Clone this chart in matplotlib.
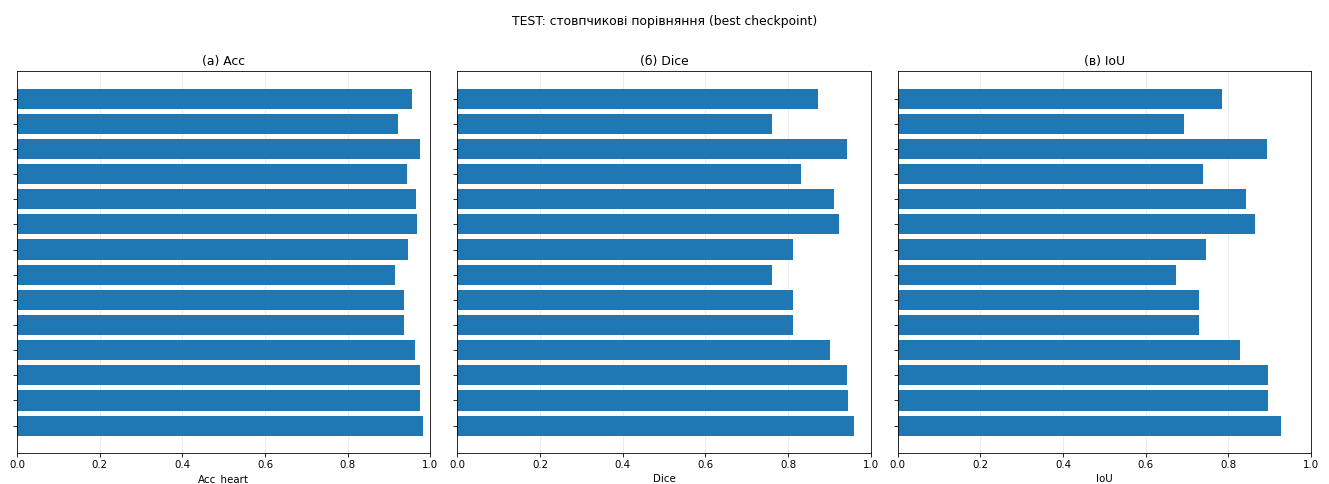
import numpy as np
import matplotlib.pyplot as plt

# per-sample metrics on the test split, listed top to bottom
acc_heart = [0.956, 0.922, 0.975, 0.943, 0.966, 0.968, 0.946,
             0.915, 0.936, 0.936, 0.963, 0.975, 0.975, 0.981]
dice = [0.872, 0.761, 0.942, 0.831, 0.912, 0.923, 0.813,
        0.761, 0.813, 0.813, 0.902, 0.942, 0.944, 0.960]
iou = [0.785, 0.692, 0.893, 0.739, 0.843, 0.865, 0.745,
       0.674, 0.728, 0.728, 0.828, 0.895, 0.897, 0.927]

titles = ["(а) Acc", "(б) Dice", "(в) IoU"]
xlabels = ["Acc_heart", "Dice", "IoU"]

s = 0.74  # shrink factor for text and lines
plt.rcParams.update({
    "font.size": 10 * s,
    "axes.titlesize": 12 * s,
    "figure.titlesize": 12 * s,
    "axes.linewidth": 0.8 * s,
    "xtick.major.size": 3.5 * s,
    "ytick.major.size": 3.5 * s,
    "xtick.major.width": 0.8 * s,
    "ytick.major.width": 0.8 * s,
    "grid.linewidth": 0.8 * s,
    "axes.titlepad": 6 * s,
    "axes.labelpad": 4 * s,
    "xtick.major.pad": 3.5 * s,
})

fig, axes = plt.subplots(1, 3, figsize=(13.29, 4.84), dpi=100)
fig.subplots_adjust(left=0.0128, right=0.9865, top=0.853, bottom=0.064, wspace=0.065)

for ax, vals, title, xl in zip(axes, [acc_heart, dice, iou], titles, xlabels):
    y = np.arange(len(vals))
    ax.barh(y, vals, color="#1f77b4")
    ax.set_yticks(y)
    ax.set_yticklabels([""] * len(vals))
    ax.invert_yaxis()
    ax.set_xlim(0, 1.0)
    ax.set_title(title)
    ax.set_xlabel(xl)
    ax.grid(axis="x", alpha=0.3)
    ax.set_axisbelow(True)

fig.suptitle("TEST: стовпчикові порівняння (best checkpoint)", y=0.97)
fig.savefig("out.png", dpi=100)
